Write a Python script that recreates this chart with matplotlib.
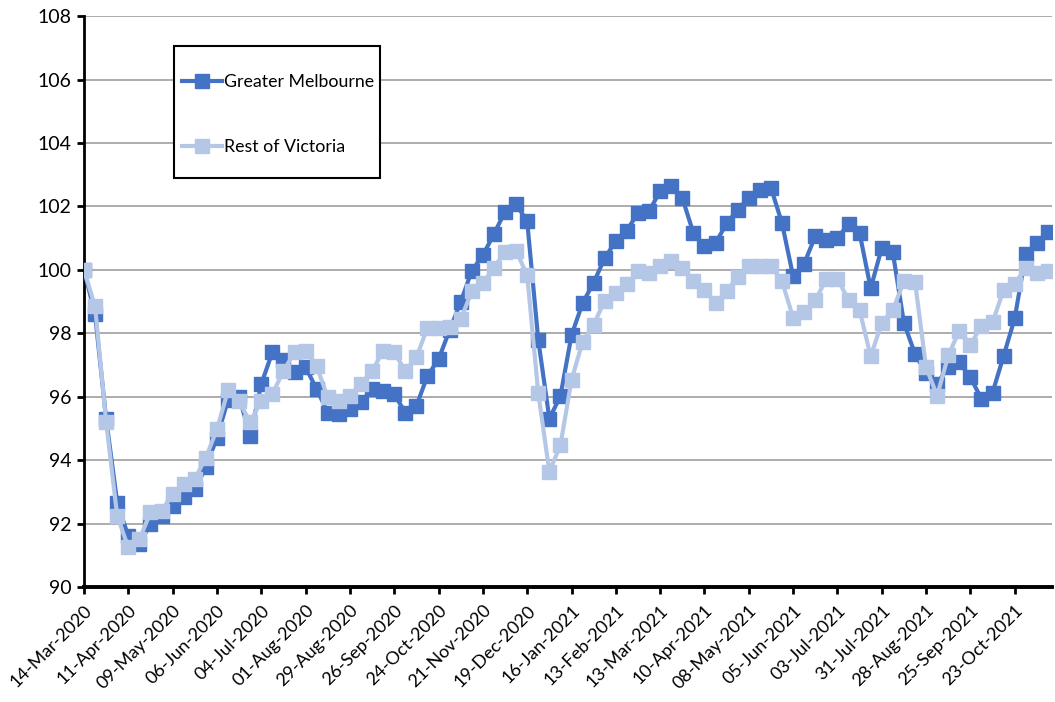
import matplotlib
matplotlib.use('Agg')
import matplotlib.pyplot as plt
from matplotlib.patches import Rectangle
import numpy as np
import pandas as pd

# weekly index values, week ending 14-Mar-2020 = 100
weeks = pd.date_range('2020-03-14', periods=88, freq='7D')

melbourne = [100.0, 98.6, 95.3, 92.66, 91.6, 91.35, 92.0, 92.24, 92.55, 92.83,
             93.08, 93.77, 94.71, 95.9, 96.0, 94.76, 96.4, 97.4, 97.15, 96.77,
             96.93, 96.24, 95.5, 95.45, 95.6, 95.82, 96.24, 96.18, 96.08, 95.5,
             95.71, 96.66, 97.18, 98.1, 98.99, 99.97, 100.46, 101.13, 101.84, 102.07,
             101.53, 97.79, 95.31, 96.02, 97.94, 98.95, 99.6, 100.37, 100.91, 101.24,
             101.8, 101.85, 102.48, 102.63, 102.27, 101.16, 100.74, 100.84, 101.47, 101.89,
             102.27, 102.53, 102.59, 101.47, 99.8, 100.2, 101.06, 100.95, 101.0, 101.45,
             101.16, 99.42, 100.69, 100.55, 98.33, 97.35, 96.74, 96.4, 96.95, 97.08,
             96.61, 95.93, 96.13, 97.29, 98.47, 100.5, 100.85, 101.19]

rest_of_vic = [100.0, 98.85, 95.2, 92.24, 91.25, 91.5, 92.35, 92.4, 92.92, 93.24,
               93.4, 94.08, 94.97, 96.2, 95.85, 95.2, 95.87, 96.08, 96.81, 97.4,
               97.45, 96.96, 95.98, 95.87, 96.03, 96.4, 96.81, 97.45, 97.4, 96.81,
               97.24, 98.18, 98.18, 98.2, 98.44, 99.32, 99.58, 100.07, 100.57, 100.6,
               99.83, 96.11, 93.64, 94.47, 96.53, 97.73, 98.27, 99.03, 99.28, 99.54,
               99.96, 99.91, 100.11, 100.27, 100.06, 99.64, 99.38, 98.95, 99.33, 99.79,
               100.11, 100.11, 100.11, 99.64, 98.49, 98.67, 99.05, 99.7, 99.72, 99.05,
               98.73, 97.27, 98.33, 98.73, 99.65, 99.63, 96.93, 96.03, 97.3, 98.08,
               97.64, 98.24, 98.35, 99.37, 99.55, 100.07, 99.89, 99.95]

y_ticks = list(range(90, 109, 2))
tick_every = 4

plt.rcParams['font.family'] = ['Lato', 'DejaVu Sans']

fig = plt.figure(figsize=(10.55, 7.02), dpi=100)
ax = fig.add_axes([0.0796, 0.1638, 0.9174, 0.8132])

x = np.arange(len(weeks))
ax.plot(x, melbourne, color='#4472C4', lw=3, marker='s', ms=10.5,
        label='Greater Melbourne', zorder=3)
ax.plot(x, rest_of_vic, color='#B4C7E7', lw=3, marker='s', ms=10.5,
        label='Rest of Victoria', zorder=4)

ax.set_ylim(90, 108)
ax.set_yticks(y_ticks)
ax.set_xlim(0, 87.35)
pos = x[::tick_every]
ax.set_xticks(pos)
ax.set_xticklabels([d.strftime('%d-%b-%Y') for d in weeks[::tick_every]],
                   rotation=45, ha='right', rotation_mode='anchor')

ax.grid(axis='y', color='#A6A6A6', lw=1.3)
ax.set_axisbelow(True)
for s in ['top', 'right']:
    ax.spines[s].set_visible(False)
ax.spines['left'].set_linewidth(2)
ax.spines['bottom'].set_linewidth(2.8)
ax.tick_params(axis='both', direction='out', length=5, width=2, labelsize=13,
               colors='black', pad=4)
ax.tick_params(axis='y', labelsize=14)
ax.tick_params(axis='x', pad=6)

# legend box drawn separately so the padding can differ per side
ax.add_patch(Rectangle((0.1649, 0.7464), 0.1953, 0.188,
                       transform=fig.transFigure, facecolor='white',
                       edgecolor='black', lw=1.5, zorder=5, clip_on=False))
leg = ax.legend(loc='upper left', bbox_to_anchor=(0.1725, 0.8944),
                bbox_transform=fig.transFigure, fontsize=12.8, frameon=False,
                handlelength=2.25, handletextpad=0.1, labelspacing=2.75,
                borderpad=0, borderaxespad=0)
leg.set_zorder(6)

fig.savefig('out.png', dpi=100)
